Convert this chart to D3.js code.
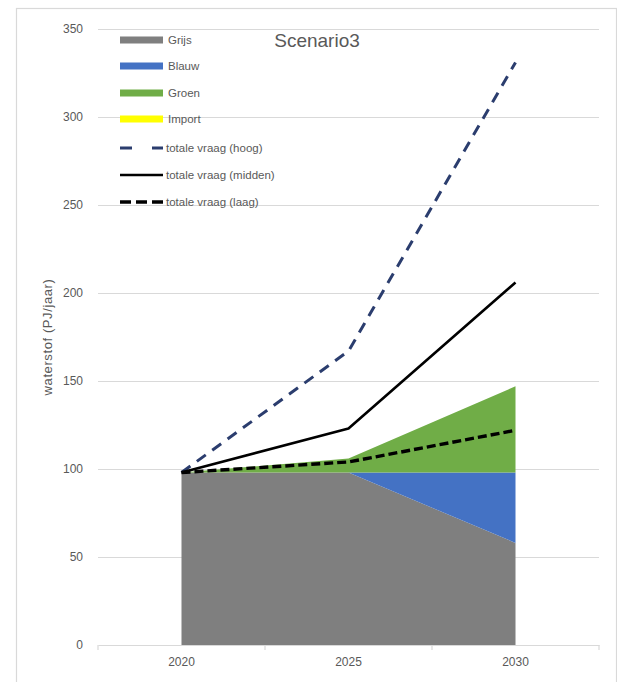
<!DOCTYPE html>
<html>
<head>
<meta charset="utf-8">
<script src="https://cdn.jsdelivr.net/npm/d3@7/dist/d3.min.js"></script>
<style>
  html, body { margin: 0; padding: 0; background: #fff; }
  svg { display: block; font-family: "Liberation Sans", Arial, sans-serif; }
</style>
</head>
<body>
<svg id="chart" width="617" height="682"></svg>
<script>
// ---- data ----
const years = ["2020", "2025", "2030"];
const grijs = [98, 98, 58];
const blauw = [0, 0, 40];
const groen = [0, 8, 49];
const importH2 = [0, 0, 0];
const vraagHoog = [98, 167, 331];
const vraagMidden = [98, 123, 206];
const vraagLaag = [98, 104, 122];
const yTicks = [0, 50, 100, 150, 200, 250, 300, 350];
const title = "Scenario3";
const yTitle = "waterstof (PJ/jaar)";

const areaSeries = [
  { key: "Grijs", values: grijs, color: "#7f7f7f" },
  { key: "Blauw", values: blauw, color: "#4472c4" },
  { key: "Groen", values: groen, color: "#70ad47" },
  { key: "Import", values: importH2, color: "#ffff00" }
];
const lineSeries = [
  { key: "totale vraag (hoog)", values: vraagHoog, color: "#2b3d6e", width: 3, dash: "11,8", legendDash: "12,20" },
  { key: "totale vraag (midden)", values: vraagMidden, color: "#000000", width: 2.6, dash: null, legendDash: null },
  { key: "totale vraag (laag)", values: vraagLaag, color: "#000000", width: 3.4, dash: "9,4", legendDash: "11,5" }
];

const svg = d3.select("#chart");
const W = 617, H = 682;

// outer frame
svg.append("rect").attr("x", 16.5).attr("y", 8.5).attr("width", 600).attr("height", 690)
  .attr("fill", "#fff").attr("stroke", "#d9d9d9").attr("stroke-width", 1.2);

const x = d3.scaleBand().domain(years).range([98, 599]).paddingInner(0).paddingOuter(0);
const y = d3.scaleLinear().domain([0, 350]).range([645, 29]);
const xc = d => x(d) + x.bandwidth() / 2;

// gridlines
svg.append("g").selectAll("line").data(yTicks.filter(t => t > 0)).join("line")
  .attr("x1", 98).attr("x2", 599)
  .attr("y1", d => Math.round(y(d)) + 0.5).attr("y2", d => Math.round(y(d)) + 0.5)
  .attr("stroke", "#d9d9d9").attr("stroke-width", 1);

// y tick labels
svg.append("g").selectAll("text").data(yTicks).join("text")
  .attr("x", 83).attr("y", d => y(d)).attr("dy", "0.35em")
  .attr("text-anchor", "end").attr("font-size", 12).attr("fill", "#595959")
  .text(d => d);

// stacked areas
const table = years.map((yr, i) => {
  const o = { year: yr };
  areaSeries.forEach(s => o[s.key] = s.values[i]);
  return o;
});
const stack = d3.stack().keys(areaSeries.map(s => s.key));
const stacked = stack(table);
const area = d3.area().x(d => xc(d.data.year)).y0(d => y(d[0])).y1(d => y(d[1]));
svg.append("g").selectAll("path").data(stacked).join("path")
  .attr("d", area)
  .attr("fill", (d, i) => areaSeries[i].color);

// x axis
const xAxis = d3.axisBottom(x).tickSize(0).tickPadding(12);
const gx = svg.append("g").attr("transform", "translate(0,645)").call(xAxis);
gx.select(".domain").attr("stroke", "#d9d9d9").attr("stroke-width", 1.2);
gx.selectAll("text").attr("font-size", 12).attr("fill", "#595959")
  .attr("font-family", "Liberation Sans, Arial, sans-serif");
// tick marks at category boundaries
const bounds = years.map(d => x(d)).concat([x(years[years.length - 1]) + x.bandwidth()]);
svg.append("g").selectAll("line").data(bounds).join("line")
  .attr("x1", d => d).attr("x2", d => d).attr("y1", 645).attr("y2", 650)
  .attr("stroke", "#d9d9d9").attr("stroke-width", 1.2);

// lines
const line = d3.line().x((d, i) => xc(years[i])).y(d => y(d));
lineSeries.forEach(s => {
  svg.append("path").datum(s.values)
    .attr("d", line)
    .attr("fill", "none")
    .attr("stroke", s.color)
    .attr("stroke-width", s.width)
    .attr("stroke-dasharray", s.dash)
    .attr("stroke-linejoin", "round");
});

// title
svg.append("text").attr("x", 317).attr("y", 47).attr("text-anchor", "middle")
  .attr("font-size", 19).attr("fill", "#595959").text(title);

// y title
svg.append("text").attr("transform", "translate(52,337) rotate(-90)")
  .attr("text-anchor", "middle").attr("font-size", 13).attr("letter-spacing", 0.6)
  .attr("fill", "#595959").text(yTitle);

// legend
const legend = svg.append("g");
const rowY = [40, 66, 93, 119, 148, 175, 202];
areaSeries.forEach((s, i) => {
  legend.append("rect").attr("x", 120).attr("y", rowY[i] - 3.5).attr("width", 43).attr("height", 7)
    .attr("fill", s.color);
  legend.append("text").attr("x", 168).attr("y", rowY[i]).attr("dy", "0.35em")
    .attr("font-size", 11.5).attr("fill", "#595959").text(s.key);
});
lineSeries.forEach((s, j) => {
  const yy = rowY[4 + j];
  legend.append("line").attr("x1", 120).attr("x2", 163).attr("y1", yy).attr("y2", yy)
    .attr("stroke", s.color).attr("stroke-width", s.width)
    .attr("stroke-dasharray", s.legendDash);
  legend.append("text").attr("x", 166).attr("y", yy).attr("dy", "0.35em")
    .attr("font-size", 11.5).attr("fill", "#595959").text(s.key);
});
</script>
</body>
</html>
